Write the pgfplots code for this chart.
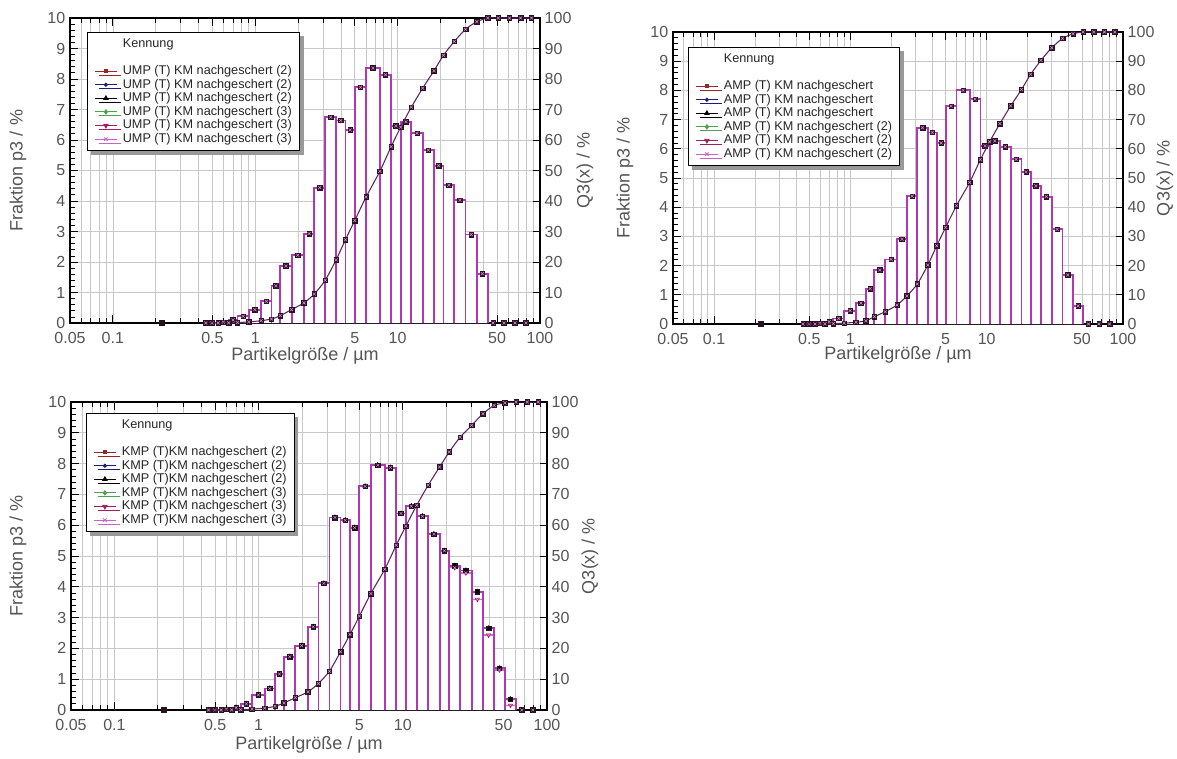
\documentclass[border=0pt]{standalone}
\usepackage{fontspec}
\setmainfont{Liberation Sans}
\usepackage{pgfplots}
\pgfplotsset{compat=1.18}
\usepackage{pgfplotstable}
\usetikzlibrary{shadows}
\pgfkeys{/pgf/number format/assume math mode=true}

\definecolor{barcol}{RGB}{176,56,176}
\definecolor{barcolb}{RGB}{210,110,210}
\definecolor{curvecol}{RGB}{95,35,95}
\definecolor{markdark}{RGB}{40,18,32}
\definecolor{markx}{RGB}{225,140,225}
\definecolor{gridcol}{RGB}{200,200,200}
\definecolor{txtgray}{RGB}{85,85,85}
\definecolor{lg1}{RGB}{150,40,40}
\definecolor{lg2}{RGB}{30,30,120}
\definecolor{lg3}{RGB}{0,0,0}
\definecolor{lg4}{RGB}{80,160,80}
\definecolor{lg5}{RGB}{160,30,90}
\definecolor{lg6}{RGB}{200,100,200}

% main tables: lo = class edge, c = class centre, p = fraction p3 of class, q = Q3 at edge lo
\pgfplotstableread{
lo c p q
0.45 0.497 0 0
0.55 0.598 0.03 0
0.65 0.698 0.1 0.05
0.75 0.822 0.22 0.15
0.9 0.995 0.44 0.35
1.1 1.196 0.71 0.75
1.3 1.396 1.22 1.3
1.5 1.643 1.87 2.4
1.8 1.990 2.22 4.4
2.2 2.392 2.93 6.6
2.6 2.839 4.44 9.5
3.1 3.387 6.75 14.0
3.7 3.989 6.64 20.7
4.3 4.637 6.33 27.3
5.0 5.477 7.73 33.6
6.0 6.708 8.36 41.3
7.5 8.216 8.14 49.7
9.0 9.721 6.46 57.8
10.5 11.456 6.60 64.2
12.5 13.693 6.22 70.8
15 16.432 5.67 77.0
18 19.442 5.16 82.7
21 22.913 4.52 87.8
25 27.386 4.03 92.3
30 32.863 2.90 96.3
36 39.345 1.62 98.8
43 46.83 0 100
51 55.78 0 100
61 66.73 0 100
73 79.69 0 100
87 nan nan 100
}\TUMP
% bar outlines: p = bar height from edge lo, e = height of the vertical edge at lo
\pgfplotstableread{
lo p e
0.45 0 0
0.55 0.03 0.03
0.65 0.1 0.1
0.75 0.22 0.22
0.9 0.44 0.44
1.1 0.71 0.71
1.3 1.22 1.22
1.5 1.87 1.87
1.8 2.22 2.22
2.2 2.93 2.93
2.6 4.44 4.44
3.1 6.75 6.75
3.7 6.64 6.75
4.3 6.33 6.64
5.0 7.73 7.73
6.0 8.36 8.36
7.5 8.14 8.36
9.0 6.46 8.14
10.5 6.60 6.60
12.5 6.22 6.60
15 5.67 6.22
18 5.16 5.67
21 4.52 5.16
25 4.03 4.52
30 2.90 4.03
36 1.62 2.90
43 0 1.62
}\BUMP

\pgfplotstableread{
lo c p q
0.45 0.497 0 0
0.55 0.598 0.02 0
0.65 0.698 0.08 0.05
0.75 0.822 0.19 0.12
0.9 0.995 0.46 0.3
1.1 1.196 0.71 0.6
1.3 1.396 1.21 1.1
1.5 1.643 1.85 2.5
1.8 1.990 2.21 4.2
2.2 2.392 2.90 6.5
2.6 2.839 4.38 9.6
3.1 3.387 6.72 13.7
3.7 3.989 6.56 20.2
4.3 4.637 6.20 26.8
5.0 5.477 7.46 33.1
6.0 6.708 8.00 40.5
7.5 8.216 7.70 48.5
9.0 9.721 6.10 56.3
10.5 11.456 6.27 62.4
12.5 13.693 6.07 68.6
15 16.432 5.64 74.7
18 19.442 5.21 80.3
21 22.913 4.73 85.5
25 27.386 4.36 90.3
30 32.863 3.24 94.6
36 39.345 1.68 97.8
43 46.83 0.62 99.4
51 55.78 0 100
61 66.73 0 100
73 79.69 0 100
87 nan nan 100
}\TAMP
\pgfplotstableread{
lo p e
0.45 0 0
0.55 0.02 0.02
0.65 0.08 0.08
0.75 0.19 0.19
0.9 0.46 0.46
1.1 0.71 0.71
1.3 1.21 1.21
1.5 1.85 1.85
1.8 2.21 2.21
2.2 2.90 2.90
2.6 4.38 4.38
3.1 6.72 6.72
3.7 6.56 6.72
4.3 6.20 6.56
5.0 7.46 7.46
6.0 8.00 8.00
7.5 7.70 8.00
9.0 6.10 7.70
10.5 6.27 6.27
12.5 6.07 6.27
15 5.64 6.07
18 5.21 5.64
21 4.73 5.21
25 4.36 4.73
30 3.24 4.36
36 1.68 3.24
43 0.62 1.68
51 0 0.62
}\BAMP

\pgfplotstableread{
lo c pa pb q
0.45 0.497 0 0 0
0.55 0.598 0.03 0.03 0
0.65 0.698 0.08 0.08 0.03
0.75 0.822 0.2 0.2 0.1
0.9 0.995 0.49 0.49 0.3
1.1 1.196 0.70 0.70 0.6
1.3 1.396 1.17 1.17 1.2
1.5 1.643 1.73 1.73 2.3
1.8 1.990 2.09 2.09 4.0
2.2 2.392 2.70 2.70 5.9
2.6 2.839 4.11 4.11 8.6
3.1 3.387 6.25 6.25 12.6
3.7 3.989 6.16 6.16 18.9
4.3 4.637 5.92 5.92 24.5
5.0 5.477 7.26 7.26 30.5
6.0 6.708 7.95 7.95 37.8
7.5 8.216 7.87 7.87 45.7
9.0 9.721 6.38 6.38 53.5
10.5 11.456 6.62 6.62 59.7
12.5 13.693 6.29 6.29 66.5
15 16.432 5.71 5.71 73.0
18 19.442 5.17 5.17 78.9
21 22.913 4.68 4.62 83.8
25 27.386 4.53 4.45 88.6
30 32.863 3.84 3.59 92.4
36 39.345 2.65 2.43 96.2
43 46.83 1.35 1.30 98.9
51 55.78 0.35 0.15 99.7
61 66.73 0 0 100
73 79.69 0 0 100
87 nan nan nan 100
}\TKMP
\pgfplotstableread{
lo pa ea pb eb
0.45 0 0 0 0
0.55 0.03 0.03 0.03 0.03
0.65 0.08 0.08 0.08 0.08
0.75 0.2 0.2 0.2 0.2
0.9 0.49 0.49 0.49 0.49
1.1 0.70 0.70 0.70 0.70
1.3 1.17 1.17 1.17 1.17
1.5 1.73 1.73 1.73 1.73
1.8 2.09 2.09 2.09 2.09
2.2 2.70 2.70 2.70 2.70
2.6 4.11 4.11 4.11 4.11
3.1 6.25 6.25 6.25 6.25
3.7 6.16 6.25 6.16 6.25
4.3 5.92 6.16 5.92 6.16
5.0 7.26 7.26 7.26 7.26
6.0 7.95 7.95 7.95 7.95
7.5 7.87 7.95 7.87 7.95
9.0 6.38 7.87 6.38 7.87
10.5 6.62 6.62 6.62 6.62
12.5 6.29 6.62 6.29 6.62
15 5.71 6.29 5.71 6.29
18 5.17 5.71 5.17 5.71
21 4.68 5.17 4.62 5.17
25 4.53 4.68 4.45 4.62
30 3.84 4.53 3.59 4.45
36 2.65 3.84 2.43 3.59
43 1.35 2.65 1.30 2.43
51 0.35 1.35 0.15 1.30
61 0 0.35 0 0.15
}\BKMP

\newcommand{\legimgs}[2]{%
  \addlegendimage{empty legend}\addlegendentry{Kennung}
  \addlegendimage{empty legend}\addlegendentry{\phantom{K}}
  \addlegendimage{lg1, line width=0.7pt, mark=square*, mark size=1.4pt}\addlegendentry{#1}
  \addlegendimage{lg2, line width=0.7pt, mark=*, mark size=1.2pt}\addlegendentry{#1}
  \addlegendimage{lg3, line width=0.7pt, mark=triangle*, mark size=1.8pt}\addlegendentry{#1}
  \addlegendimage{lg4, line width=0.7pt, mark=diamond*, mark size=1.6pt}\addlegendentry{#2}
  \addlegendimage{lg5, line width=0.7pt, mark=triangle*, mark size=1.8pt, mark options={rotate=180}}\addlegendentry{#2}
  \addlegendimage{lg6, line width=0.7pt, mark=x, mark size=1.8pt}\addlegendentry{#2}
}

\begin{document}
\begin{tikzpicture}
\useasboundingbox (0,0) rectangle (882.75pt,568.5pt);

% ---------------- Panel 1: UMP ----------------
\begin{axis}[anchor=south west, at={(52.5pt,326.25pt)}, width=352.5pt, height=228.75pt,
  scale only axis, xmode=log, xmin=0.05, xmax=100,
  tick label style={font=\fontsize{12}{14}\selectfont, text=txtgray},
  label style={font=\fontsize{13.5}{16}\selectfont, text=txtgray},
  tick style={black, line width=0.6pt},
  axis line style={black, line width=0.8pt},
  xtick={0.05,0.1,0.5,1,5,10,50,100},
  xticklabels={0.05,0.1,0.5,1,5,10,50,100},
  minor xtick={0.06,0.07,0.08,0.09,0.2,0.3,0.4,0.6,0.7,0.8,0.9,2,3,4,6,7,8,9,20,30,40,60,70,80,90},
  ymin=0, ymax=10, ytick={0,1,...,10}, minor y tick num=4, ytick pos=left,
  xmajorgrids, xminorgrids, ymajorgrids,
  major grid style={gridcol, line width=0.5pt},
  minor grid style={gridcol, line width=0.5pt},
  major tick length=6pt, minor tick length=3.5pt,
  xticklabel style={yshift=-3.5pt},
  xlabel={Partikelgröße / µm}, ylabel={Fraktion p3 / \%},
  xlabel style={at={(axis description cs:0.5,-0.1082)}, anchor=center},
  ylabel style={at={(axis description cs:-0.1106,0.5)}, anchor=center}]
  \addplot[const plot mark left, fill=white, draw=none] table[x=lo,y=p] {\BUMP} \closedcycle;
  \addplot[const plot mark left, color=barcol, line width=1.4pt] table[x=lo,y=p] {\BUMP};
  \addplot[ycomb, color=barcol, line width=1.4pt] table[x=lo,y=e] {\BUMP};
  \addplot[only marks, mark=square*, mark size=1.7pt, color=markdark] table[x=c,y=p] {\TUMP};
  \addplot[only marks, mark=x, mark size=1.6pt, color=markx] table[x=c,y=p] {\TUMP};
  \addplot[only marks, mark=square*, mark size=1.7pt, color=markdark] coordinates {(0.22,0)};
\end{axis}
\begin{axis}[anchor=south west, at={(52.5pt,326.25pt)}, width=352.5pt, height=228.75pt,
  scale only axis, xmode=log, xmin=0.05, xmax=100,
  tick label style={font=\fontsize{12}{14}\selectfont, text=txtgray},
  label style={font=\fontsize{13.5}{16}\selectfont, text=txtgray},
  tick style={black, line width=0.6pt},
  axis line style={black, line width=0.8pt},
  axis x line=none, axis y line*=right,
  ymin=0, ymax=100, ytick={0,10,...,100}, major tick length=5pt,
  ylabel={Q3(x) / \%},
  ylabel style={at={(axis description cs:1.0957,0.5)}, anchor=center},
  legend cell align=left,
  legend style={at={(rel axis cs:0.0362,0.954)}, anchor=north west,
    draw=black, line width=0.6pt, fill=white,
    drop shadow={shadow xshift=3pt, shadow yshift=-3pt, fill=black!40, opacity=1},
    font=\fontsize{9.5}{10}\selectfont, text=black!85,
    inner xsep=5pt, inner ysep=3.5pt, row sep=0pt, column sep=3pt,
    nodes={inner sep=0.8pt, text height=6.8pt, text depth=1.8pt}}]
  \legimgs{UMP (T) KM nachgeschert (2)}{UMP (T) KM nachgeschert (3)}
  \addplot[forget plot, color=curvecol, line width=0.8pt, smooth, tension=0.4] table[x=lo,y=q] {\TUMP};
  \addplot[forget plot, only marks, mark=square*, mark size=1.7pt, color=markdark] table[x=lo,y=q] {\TUMP};
  \addplot[forget plot, only marks, mark=x, mark size=1.6pt, color=markx] table[x=lo,y=q] {\TUMP};
\end{axis}

% ---------------- Panel 2: AMP ----------------
\begin{axis}[anchor=south west, at={(504.75pt,325.5pt)}, width=337.5pt, height=219pt,
  scale only axis, xmode=log, xmin=0.05, xmax=100,
  tick label style={font=\fontsize{12}{14}\selectfont, text=txtgray},
  label style={font=\fontsize{13.5}{16}\selectfont, text=txtgray},
  tick style={black, line width=0.6pt},
  axis line style={black, line width=0.8pt},
  xtick={0.05,0.1,0.5,1,5,10,50,100},
  xticklabels={0.05,0.1,0.5,1,5,10,50,100},
  minor xtick={0.06,0.07,0.08,0.09,0.2,0.3,0.4,0.6,0.7,0.8,0.9,2,3,4,6,7,8,9,20,30,40,60,70,80,90},
  ymin=0, ymax=10, ytick={0,1,...,10}, minor y tick num=4, ytick pos=left,
  xmajorgrids, xminorgrids, ymajorgrids,
  major grid style={gridcol, line width=0.5pt},
  minor grid style={gridcol, line width=0.5pt},
  major tick length=6pt, minor tick length=3.5pt,
  xticklabel style={yshift=-3.5pt},
  xlabel={Partikelgröße / µm}, ylabel={Fraktion p3 / \%},
  xlabel style={at={(axis description cs:0.5,-0.1062)}, anchor=center},
  ylabel style={at={(axis description cs:-0.1067,0.5)}, anchor=center}]
  \addplot[const plot mark left, fill=white, draw=none] table[x=lo,y=p] {\BAMP} \closedcycle;
  \addplot[const plot mark left, color=barcol, line width=1.4pt] table[x=lo,y=p] {\BAMP};
  \addplot[ycomb, color=barcol, line width=1.4pt] table[x=lo,y=e] {\BAMP};
  \addplot[only marks, mark=square*, mark size=1.7pt, color=markdark] table[x=c,y=p] {\TAMP};
  \addplot[only marks, mark=x, mark size=1.6pt, color=markx] table[x=c,y=p] {\TAMP};
  \addplot[only marks, mark=square*, mark size=1.7pt, color=markdark] coordinates {(0.22,0)};
\end{axis}
\begin{axis}[anchor=south west, at={(504.75pt,325.5pt)}, width=337.5pt, height=219pt,
  scale only axis, xmode=log, xmin=0.05, xmax=100,
  tick label style={font=\fontsize{12}{14}\selectfont, text=txtgray},
  label style={font=\fontsize{13.5}{16}\selectfont, text=txtgray},
  tick style={black, line width=0.6pt},
  axis line style={black, line width=0.8pt},
  axis x line=none, axis y line*=right,
  ymin=0, ymax=100, ytick={0,10,...,100}, major tick length=5pt,
  ylabel={Q3(x) / \%},
  ylabel style={at={(axis description cs:1.0933,0.5)}, anchor=center},
  legend cell align=left,
  legend style={at={(rel axis cs:0.0333,0.9486)}, anchor=north west,
    draw=black, line width=0.6pt, fill=white,
    drop shadow={shadow xshift=3pt, shadow yshift=-3pt, fill=black!40, opacity=1},
    font=\fontsize{9.5}{10}\selectfont, text=black!85,
    inner xsep=5pt, inner ysep=3.5pt, row sep=0pt, column sep=3pt,
    nodes={inner sep=0.8pt, text height=6.8pt, text depth=1.8pt}}]
  \legimgs{AMP (T) KM nachgeschert}{AMP (T) KM nachgeschert (2)}
  \addplot[forget plot, color=curvecol, line width=0.8pt, smooth, tension=0.4] table[x=lo,y=q] {\TAMP};
  \addplot[forget plot, only marks, mark=square*, mark size=1.7pt, color=markdark] table[x=lo,y=q] {\TAMP};
  \addplot[forget plot, only marks, mark=x, mark size=1.6pt, color=markx] table[x=lo,y=q] {\TAMP};
\end{axis}

% ---------------- Panel 3: KMP ----------------
\begin{axis}[anchor=south west, at={(53.25pt,36pt)}, width=357pt, height=231pt,
  scale only axis, xmode=log, xmin=0.05, xmax=100,
  tick label style={font=\fontsize{12}{14}\selectfont, text=txtgray},
  label style={font=\fontsize{13.5}{16}\selectfont, text=txtgray},
  tick style={black, line width=0.6pt},
  axis line style={black, line width=0.8pt},
  xtick={0.05,0.1,0.5,1,5,10,50,100},
  xticklabels={0.05,0.1,0.5,1,5,10,50,100},
  minor xtick={0.06,0.07,0.08,0.09,0.2,0.3,0.4,0.6,0.7,0.8,0.9,2,3,4,6,7,8,9,20,30,40,60,70,80,90},
  ymin=0, ymax=10, ytick={0,1,...,10}, minor y tick num=4, ytick pos=left,
  xmajorgrids, xminorgrids, ymajorgrids,
  major grid style={gridcol, line width=0.5pt},
  minor grid style={gridcol, line width=0.5pt},
  major tick length=6pt, minor tick length=3.5pt,
  xticklabel style={yshift=-3.5pt},
  xlabel={Partikelgröße / µm}, ylabel={Fraktion p3 / \%},
  xlabel style={at={(axis description cs:0.5,-0.1136)}, anchor=center},
  ylabel style={at={(axis description cs:-0.1113,0.5)}, anchor=center}]
  \addplot[const plot mark left, fill=white, draw=none] table[x=lo,y=pa] {\BKMP} \closedcycle;
  \addplot[const plot mark left, color=barcolb, line width=1.1pt] table[x=lo,y=pb] {\BKMP};
  \addplot[ycomb, color=barcolb, line width=1.1pt] table[x=lo,y=eb] {\BKMP};
  \addplot[const plot mark left, color=barcol, line width=1.4pt] table[x=lo,y=pa] {\BKMP};
  \addplot[ycomb, color=barcol, line width=1.4pt] table[x=lo,y=ea] {\BKMP};
  \addplot[only marks, mark=triangle*, mark size=1.8pt, color=lg5, mark options={rotate=180}] table[x=c,y=pb] {\TKMP};
  \addplot[only marks, mark=square*, mark size=1.7pt, color=markdark] table[x=c,y=pa] {\TKMP};
  \addplot[only marks, mark=triangle*, mark size=2pt, color=black] table[x=c,y=pa] {\TKMP};
  \addplot[only marks, mark=x, mark size=1.6pt, color=markx] table[x=c,y=pb] {\TKMP};
  \addplot[only marks, mark=square*, mark size=1.7pt, color=markdark] coordinates {(0.22,0)};
\end{axis}
\begin{axis}[anchor=south west, at={(53.25pt,36pt)}, width=357pt, height=231pt,
  scale only axis, xmode=log, xmin=0.05, xmax=100,
  tick label style={font=\fontsize{12}{14}\selectfont, text=txtgray},
  label style={font=\fontsize{13.5}{16}\selectfont, text=txtgray},
  tick style={black, line width=0.6pt},
  axis line style={black, line width=0.8pt},
  axis x line=none, axis y line*=right,
  ymin=0, ymax=100, ytick={0,10,...,100}, major tick length=5pt,
  ylabel={Q3(x) / \%},
  ylabel style={at={(axis description cs:1.0903,0.5)}, anchor=center},
  legend cell align=left,
  legend style={at={(rel axis cs:0.0315,0.9643)}, anchor=north west,
    draw=black, line width=0.6pt, fill=white,
    drop shadow={shadow xshift=3pt, shadow yshift=-3pt, fill=black!40, opacity=1},
    font=\fontsize{9.5}{10}\selectfont, text=black!85,
    inner xsep=5pt, inner ysep=3.5pt, row sep=0pt, column sep=3pt,
    nodes={inner sep=0.8pt, text height=6.8pt, text depth=1.8pt}}]
  \legimgs{KMP (T)KM nachgeschert (2)}{KMP (T)KM nachgeschert (3)}
  \addplot[forget plot, color=curvecol, line width=0.8pt, smooth, tension=0.4] table[x=lo,y=q] {\TKMP};
  \addplot[forget plot, only marks, mark=square*, mark size=1.7pt, color=markdark] table[x=lo,y=q] {\TKMP};
  \addplot[forget plot, only marks, mark=x, mark size=1.6pt, color=markx] table[x=lo,y=q] {\TKMP};
\end{axis}
\end{tikzpicture}
\end{document}
